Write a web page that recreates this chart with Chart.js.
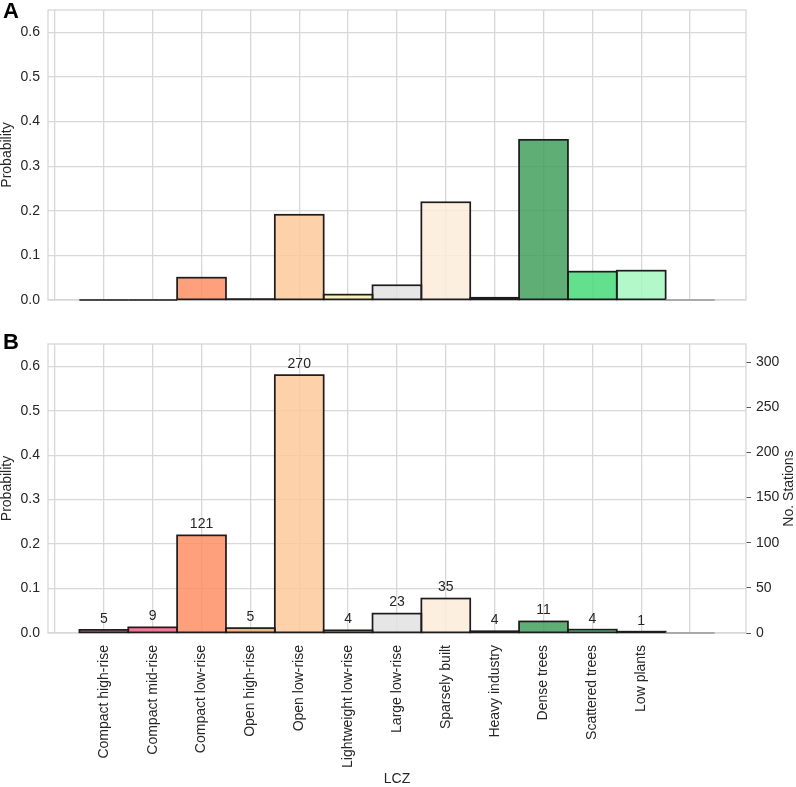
<!DOCTYPE html>
<html><head><meta charset="utf-8">
<script src="https://cdn.jsdelivr.net/npm/chart.js@4.4.0/dist/chart.umd.min.js"></script>
<style>
html,body{margin:0;padding:0;background:#fff;}
#wrap{position:relative;width:796px;height:787px;overflow:hidden;font-family:'Liberation Sans',Arial,sans-serif;}
.panel{position:absolute;left:0;width:796px;}
#pA{top:0;height:320px;}
#pB{top:320px;height:467px;}
.tag{position:absolute;left:3px;font-weight:bold;font-size:22px;color:#000;line-height:1;}
</style></head><body>
<div id="wrap">
<div class="panel" id="pA"><canvas id="cA"></canvas></div>
<div class="panel" id="pB"><canvas id="cB"></canvas></div>
<div class="tag" style="top:0px">A</div>
<div class="tag" style="top:331px">B</div>
</div>
<script>
// ---- data ----
const lczCategories = ['Compact high-rise','Compact mid-rise','Compact low-rise','Open high-rise','Open low-rise',
  'Lightweight low-rise','Large low-rise','Sparsely built','Heavy industry','Dense trees','Scattered trees','Low plants'];
// 13 bars: the 12 labelled classes plus one unlabelled (empty) class at the end
const probabilityA = [0, 0, 0.050, 0.002, 0.191, 0.012, 0.033, 0.219, 0.005, 0.359, 0.0635, 0.0657, 0];
const probabilityB = [0.007, 0.0127, 0.2196, 0.011, 0.580, 0.006, 0.0436, 0.0775, 0.004, 0.026, 0.0075, 0.003, 0];
const stationCounts = [5, 9, 121, 5, 270, 4, 23, 35, 4, 11, 4, 1, null];
const probTicks = [0, 0.1, 0.2, 0.3, 0.4, 0.5, 0.6];
const stationTicks = [0, 50, 100, 150, 200, 250, 300];
const xTickPositions = [0,1,2,3,4,5,6,7,8,9,10,11,12,13];

// ---- styles ----
const barFills = [
  'rgba(190,87,103,0.85)','rgba(240,98,131,0.85)','rgba(255,143,101,0.85)','rgba(246,164,117,0.85)',
  'rgba(253,201,155,0.85)','rgba(243,241,175,0.85)','rgba(226,226,226,0.85)','rgba(253,236,218,0.85)',
  'rgba(73,73,73,0.85)','rgba(67,160,94,0.85)','rgba(72,218,122,0.85)','rgba(164,247,190,0.85)','rgba(200,200,200,0.85)'];
const barEdges = ['#1c1c1c','#1c1c1c','#1c1c1c','#1c1c1c','#1c1c1c','#1c1c1c','#1c1c1c','#1c1c1c','#1c1c1c','#1c1c1c','#1c1c1c','#1c1c1c','#9a9a9a'];
const FONT = {family: "'Liberation Sans', Arial, sans-serif", size: 14};
const TXT = '#262626';
const GRID = '#d8d8d8';

function tickLabel(v){
  const i = Math.round(v);
  return (i >= 1 && i <= lczCategories.length) ? lczCategories[i-1] : '';
}
function zeroPad(s){ s.paddingTop = 0; s.paddingBottom = 0; s.paddingLeft = 0; s.paddingRight = 0; }

const framePlugin = {
  id: 'frame',
  beforeDatasetsDraw(chart){
    const a = chart.chartArea, ctx = chart.ctx;
    ctx.save(); ctx.strokeStyle = GRID; ctx.lineWidth = 1.3;
    ctx.strokeRect(a.left, a.top, a.right - a.left, a.bottom - a.top);
    ctx.restore();
  }
};
const outlinePlugin = {
  id: 'outline',
  afterDatasetsDraw(chart){
    const meta = chart.getDatasetMeta(0), ctx = chart.ctx;
    ctx.save(); ctx.lineWidth = 1.7;
    meta.data.forEach((el, i) => {
      ctx.strokeStyle = barEdges[i];
      const w = el.width;
      ctx.strokeRect(el.x - w/2, Math.min(el.y, el.base), w, Math.abs(el.base - el.y));
    });
    ctx.restore();
  }
};
const countPlugin = {
  id: 'counts',
  afterDatasetsDraw(chart){
    const meta = chart.getDatasetMeta(0), ctx = chart.ctx;
    ctx.save();
    ctx.font = "14px 'Liberation Sans', Arial, sans-serif";
    ctx.fillStyle = TXT; ctx.textAlign = 'center'; ctx.textBaseline = 'bottom';
    meta.data.forEach((el, i) => {
      const c = stationCounts[i];
      if (c === null || c === undefined) return;
      ctx.fillText(String(c), el.x, el.y - 4);
    });
    ctx.restore();
  }
};
const rightTitlePlugin = {
  id: 'rtitle',
  afterDraw(chart){
    const a = chart.chartArea, ctx = chart.ctx;
    ctx.save();
    ctx.font = "14px 'Liberation Sans', Arial, sans-serif";
    ctx.fillStyle = TXT; ctx.textAlign = 'center'; ctx.textBaseline = 'middle';
    ctx.translate(chart.width - 7, (a.top + a.bottom)/2);
    ctx.rotate(-Math.PI/2);
    ctx.fillText('No. Stations', 0, 0);
    ctx.restore();
  }
};

function xScale(showLabels){
  return {
    type: 'linear', min: -0.143, max: 14.145, offset: false,
    grid: {offset: false, color: GRID, lineWidth: 1.3, drawTicks: false},
    border: {display: false},
    afterBuildTicks: s => { s.ticks = xTickPositions.map(v => ({value: v})); },
    ticks: {display: showLabels, autoSkip: false, maxRotation: 90, minRotation: 90, padding: 12,
            color: TXT, font: FONT, callback: v => tickLabel(v)},
    title: showLabels ? {display: true, text: 'LCZ', color: TXT, font: {...FONT, lineHeight: 1}, padding: {top: 0, bottom: 1}} : {display: false},
    afterFit: s => { s.height = showLabels ? 154 : 20; zeroPad(s); }
  };
}
function yProb(){
  return {
    type: 'linear', position: 'left', min: 0, max: 0.65,
    afterBuildTicks: s => { s.ticks = probTicks.map(v => ({value: v})); },
    grid: {color: GRID, lineWidth: 1.3, drawTicks: false},
    border: {display: false},
    ticks: {padding: 8, color: TXT, font: FONT, callback: v => Number(v).toFixed(1)},
    title: {display: true, text: 'Probability', color: TXT, font: {...FONT, lineHeight: 1}, padding: 0},
    afterFit: s => { s.width = 48; zeroPad(s); }
  };
}
function dataset(values){
  return {
    data: values.map((v, i) => ({x: i + 1, y: v})),
    backgroundColor: barFills, borderWidth: 0,
    barPercentage: 1, categoryPercentage: 1, grouped: false
  };
}
const common = {
  responsive: true, maintainAspectRatio: false, animation: false,
  plugins: {legend: {display: false}, tooltip: {enabled: false}}
};

new Chart(document.getElementById('cA'), {
  type: 'bar',
  data: {datasets: [dataset(probabilityA)]},
  options: {...common,
    layout: {padding: {top: 10, right: 50, left: 0, bottom: 0}},
    scales: {x: xScale(false), y: yProb()}
  },
  plugins: [framePlugin, outlinePlugin]
});

new Chart(document.getElementById('cB'), {
  type: 'bar',
  data: {datasets: [dataset(probabilityB)]},
  options: {...common,
    layout: {padding: {top: 24, right: 0, left: 0, bottom: 0}},
    scales: {
      x: xScale(true), y: yProb(),
      y1: {
        type: 'linear', position: 'right', min: 0, max: 320,
        afterBuildTicks: s => { s.ticks = stationTicks.map(v => ({value: v})); },
        grid: {drawOnChartArea: false, drawTicks: true, tickLength: 5, color: '#555', tickColor: '#555', tickWidth: 1},
        border: {display: false},
        ticks: {padding: 5, color: TXT, font: FONT},
        title: {display: false},
        afterFit: s => { s.width = 50; zeroPad(s); }
      }
    }
  },
  plugins: [framePlugin, outlinePlugin, countPlugin, rightTitlePlugin]
});
</script>
</body></html>
